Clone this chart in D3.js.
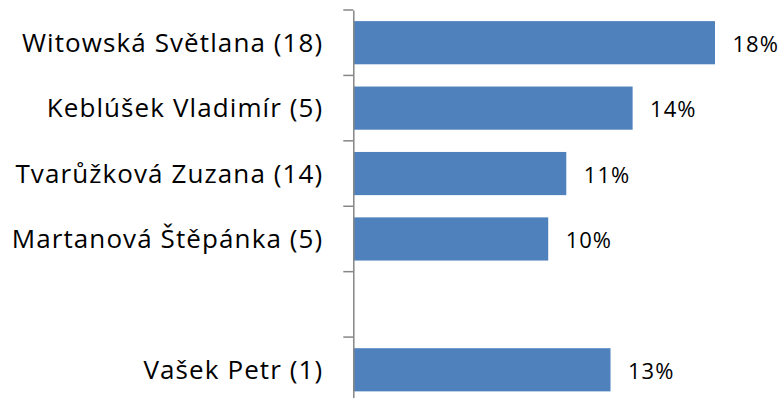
<!DOCTYPE html>
<html>
<head>
<meta charset="utf-8">
<script src="https://cdn.jsdelivr.net/npm/d3@7"></script>
<style>
  html, body { margin: 0; padding: 0; background: #fff; }
  svg { display: block; }
  text { font-family: "Open Sans", sans-serif; fill: #000; }
</style>
</head>
<body>
<svg id="chart" width="779" height="398"></svg>
<script>
// Share of each person; the empty slot keeps a gap row in the list.
const categories = [
  "Witowská Světlana (18)",
  "Keblúšek Vladimír (5)",
  "Tvarůžková Zuzana (14)",
  "Martanová Štěpánka (5)",
  "",
  "Vašek Petr (1)"
];
const values = [0.180, 0.139, 0.106, 0.097, null, 0.128];

const svg = d3.select("#chart");

const axisX = 353.3;
const y = d3.scaleBand()
  .domain(categories)
  .range([10, 402.5])
  .paddingInner(0.34)
  .paddingOuter(0.17);

const x = d3.scaleLinear()
  .domain([0, 0.18])
  .range([axisX, 715]);

const fmt = d3.format(".0%");
const rows = categories.map((c, i) => ({ name: c, value: values[i] }))
  .filter(d => d.value != null);

// Bars
svg.append("g")
  .selectAll("rect")
  .data(rows)
  .join("rect")
  .attr("x", x(0))
  .attr("y", d => y(d.name))
  .attr("width", d => x(d.value) - x(0))
  .attr("height", y.bandwidth())
  .attr("fill", "#4F81BD");

// Value labels
svg.append("g")
  .selectAll("text")
  .data(rows)
  .join("text")
  .attr("x", d => x(d.value) + 17.5)
  .attr("y", d => y(d.name) + y.bandwidth() / 2 + 9)
  .attr("font-size", 22)
  .attr("letter-spacing", 1)
  .text(d => fmt(d.value));

// Category axis with labels
const axis = svg.append("g")
  .attr("transform", `translate(${axisX},0)`)
  .call(d3.axisLeft(y).tickSize(0).tickSizeOuter(0).tickPadding(30));
axis.select(".domain").attr("stroke", "#868686").attr("stroke-width", 1.5);
axis.selectAll(".tick text")
  .attr("font-size", 26)
  .attr("letter-spacing", 1.1)
  .attr("font-family", "'Open Sans', sans-serif")
  .attr("fill", "#000")
  .attr("dy", null)
  .attr("y", 9);

// Tick marks on the category boundaries
const bounds = d3.range(categories.length + 1).map(i => y.range()[0] + i * y.step());
axis.append("g")
  .selectAll("line")
  .data(bounds)
  .join("line")
  .attr("x1", -10)
  .attr("x2", 0)
  .attr("y1", d => d)
  .attr("y2", d => d)
  .attr("stroke", "#868686")
  .attr("stroke-width", 1.5);
</script>
</body>
</html>
